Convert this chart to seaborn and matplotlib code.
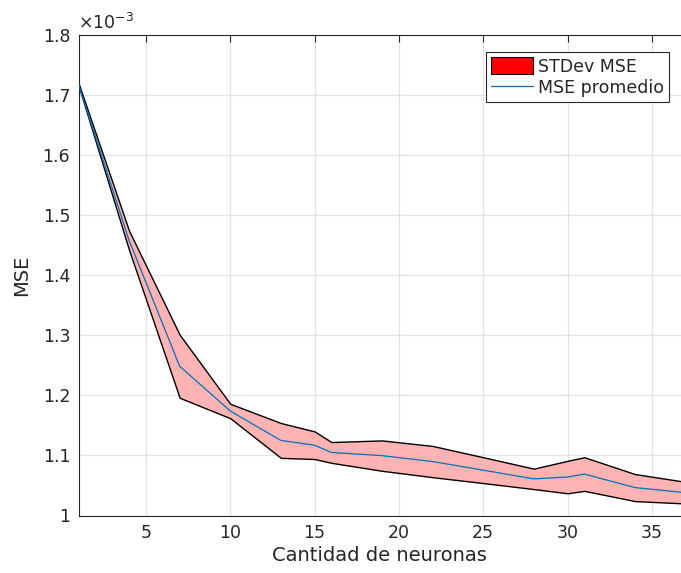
import matplotlib
matplotlib.use("Agg")
import matplotlib.pyplot as plt
import matplotlib.ticker as mticker
from matplotlib.patches import Patch
from matplotlib.lines import Line2D
import numpy as np
import pandas as pd
import seaborn as sns

# Number of hidden neurons evaluated
neuronas = [1, 4, 7, 10, 13, 15, 16, 19, 22, 25, 28, 30, 31, 34, 37]
# Average MSE and its standard deviation (units of 1e-3)
mse_promedio = [1.718, 1.458, 1.2485, 1.174, 1.125, 1.117, 1.105, 1.0997,
                1.0898, 1.0755, 1.061, 1.064, 1.069, 1.0465, 1.038]
mse_std = [0.002, 0.016, 0.0525, 0.012, 0.029, 0.023, 0.0173, 0.0253,
           0.026, 0.0215, 0.017, 0.027, 0.028, 0.0225, 0.018]
escala = 1e-3

df = pd.DataFrame({
    "n": neuronas,
    "mse": np.array(mse_promedio) * escala,
    "std": np.array(mse_std) * escala,
})
df["sup"] = df["mse"] + df["std"]
df["inf"] = df["mse"] - df["std"]

sns.set_style("white")
plt.rcParams["font.family"] = ["DejaVu Sans"]

W, H = 681, 573
ax_left, ax_bottom, ax_top = 78.5, 515.5, 35.0
fig = plt.figure(figsize=(W / 100, H / 100), dpi=100)
ax = fig.add_axes([ax_left / W, (H - ax_bottom) / H, (W - ax_left) / W,
                   (ax_bottom - ax_top) / H])

ax.fill_between(df["n"], df["inf"], df["sup"], facecolor="#ffb3b3",
                edgecolor="black", linewidth=1.0, zorder=2)
sns.lineplot(data=df, x="n", y="mse", ax=ax, color="#0072BD",
             linewidth=0.9, zorder=3)

ax.set_xlim(1, 36.73)
ax.set_ylim(1.0e-3, 1.8e-3)
ax.set_xticks([5, 10, 15, 20, 25, 30, 35])
ax.set_yticks(np.arange(1.0, 1.801, 0.1) * escala)
ax.yaxis.set_major_formatter(mticker.FuncFormatter(lambda v, p: f"{v / escala:g}"))

ax.grid(True, color="#e3e3e3", linewidth=0.9)
ax.set_axisbelow(True)
for s in ["left", "bottom", "top"]:
    ax.spines[s].set_color("#262626")
    ax.spines[s].set_linewidth(0.8)
ax.spines["right"].set_visible(False)
ax.tick_params(direction="in", length=5, width=0.8, colors="#262626",
               labelsize=12.5, pad=6, top=True)

ax.set_xlabel("Cantidad de neuronas", fontsize=14, color="#262626", labelpad=3)
ax.set_ylabel("MSE", fontsize=14, color="#262626", labelpad=8)
ax.text(0.0, 1.004, r"$\times 10^{-3}$", transform=ax.transAxes,
        fontsize=12.5, color="#262626", ha="left", va="bottom")

handles = [
    Patch(facecolor="red", edgecolor="black", linewidth=0.8, label="STDev MSE"),
    Line2D([0], [0], color="#0072BD", linewidth=0.9, label="MSE promedio"),
]
ax_w = W - ax_left
ax_h = ax_bottom - ax_top
leg = ax.legend(handles=handles, loc="upper right",
                bbox_to_anchor=((669 - ax_left) / ax_w, 1 - (52 - ax_top) / ax_h),
                fontsize=12.5, frameon=True, fancybox=False, framealpha=1,
                edgecolor="#262626", handlelength=2.4, handleheight=1.15,
                handletextpad=0.3, borderpad=0.3, labelspacing=0.15,
                borderaxespad=0)
leg.get_frame().set_linewidth(0.8)

fig.savefig("out.png", dpi=100)
